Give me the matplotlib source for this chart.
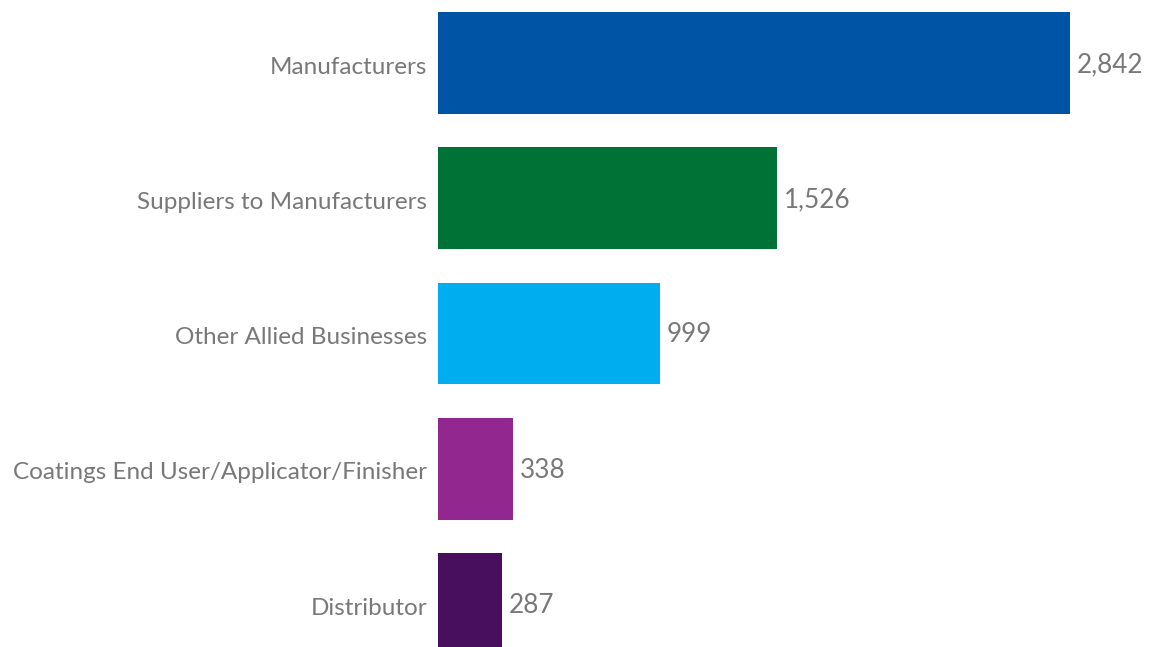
import matplotlib
matplotlib.use("Agg")
import matplotlib.pyplot as plt

categories = [
    "Manufacturers",
    "Suppliers to Manufacturers",
    "Other Allied Businesses",
    "Coatings End User/Applicator/Finisher",
    "Distributor",
]
values = [2842, 1526, 999, 338, 287]
colors = ["#0054A6", "#007236", "#00AEEF", "#92278F", "#470F5E"]

plt.rcParams["font.family"] = ["Lato", "DejaVu Sans"]
text_color = "#787878"
label_size = 17.5
value_size = 18.8

fig = plt.figure(figsize=(11.6, 6.47), dpi=100)
ax = fig.add_axes([438 / 1160, 0, 722 / 1160, 1])

positions = list(range(len(categories)))
ax.barh(positions, values, height=0.754, color=colors, edgecolor="none")

ax.set_xlim(0, 3246)
ax.set_ylim(4.318, -0.466)

for y, v in zip(positions, values):
    ax.text(v + 30, y + 0.01, f"{v:,}", va="center", ha="left",
            fontsize=value_size, color=text_color)

ax.set_yticks([p + 0.015 for p in positions])
ax.set_yticklabels(categories, fontsize=label_size, color=text_color)
ax.tick_params(axis="y", length=0, pad=8)
ax.set_xticks([])
for s in ax.spines.values():
    s.set_visible(False)

fig.savefig("out.png", dpi=100)
